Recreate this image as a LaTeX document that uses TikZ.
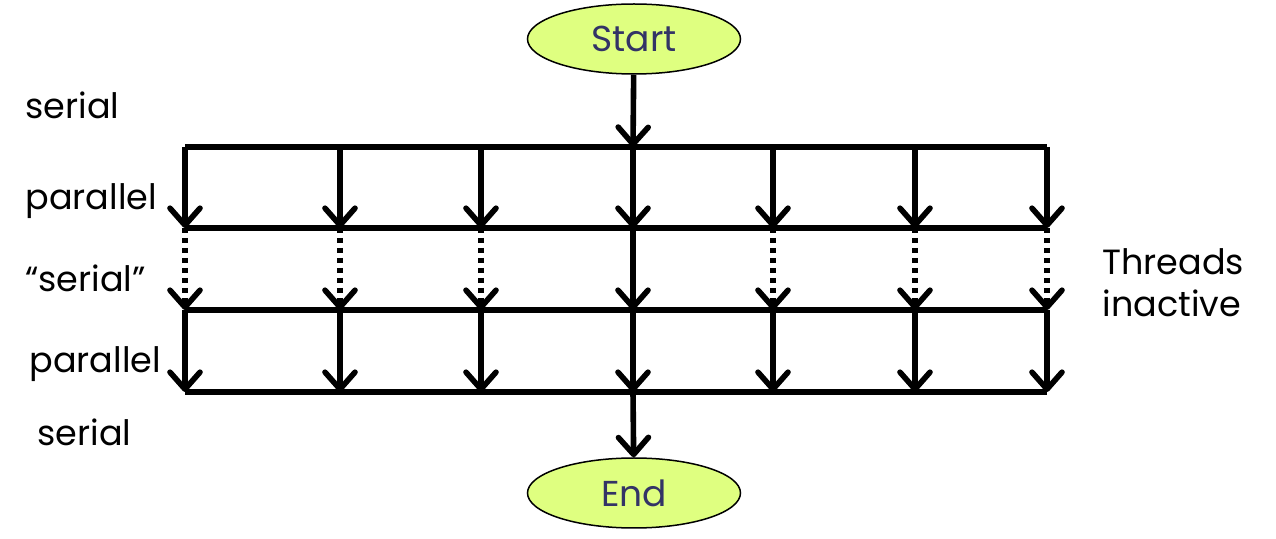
\documentclass[tikz,border=0pt]{standalone}
\usepackage{fontspec}
\setmainfont{Poppins}
\usetikzlibrary{arrows.meta,shapes.geometric}
\definecolor{ellfill}{HTML}{DFFF80}
\definecolor{elltext}{HTML}{333366}
\begin{document}
\begin{tikzpicture}[x=0.5pt,y=-0.5pt,
  bar/.style={line width=2.8pt},
  arr/.style={line width=2.8pt,-{Straight Barb[length=8.5pt,width=15pt,round]}},
  dotarr/.style={arr,dash pattern=on 2.6pt off 2.4pt},
  term/.style={ellipse,draw=black,line width=0.75pt,fill=ellfill,text=elltext,
    minimum width=106.5pt,minimum height=35pt,inner sep=0pt,font=\fontsize{18}{22}\selectfont},
  lbl/.style={anchor=base west,inner sep=0pt,font=\fontsize{17.5}{21}\selectfont}]
\useasboundingbox (0,0) rectangle (1276,539);
\node[term] (start) at (634,39) {Start};
\node[term] (end) at (634,493) {End};
\foreach \i/\x in {1/185,2/340,3/481,4/633,5/773,6/915,7/1047}{
  \coordinate (t\i) at (\x,147);
  \coordinate (m\i) at (\x,228);
  \coordinate (n\i) at (\x,310);
  \coordinate (b\i) at (\x,392);
}
\draw[bar] (t1) -- (t7);
\draw[bar] (m1) -- (m7);
\draw[bar] (n1) -- (n7);
\draw[bar] (b1) -- (b7);
\draw[arr] (start) -- (t4);
\draw[arr] (b4) -- (end);
\foreach \i in {1,...,7}{
  \draw[arr] (t\i) -- (m\i);
  \draw[arr] (n\i) -- (b\i);
}
\foreach \i in {1,2,3,5,6,7}{
  \draw[dotarr] (m\i) -- (n\i);
}
\draw[arr] (m4) -- (n4);
\node[lbl] (l1) at (25,119) {serial};
\node[lbl] (l2) at (25,210) {parallel};
\node[lbl] (l3) at (25,292) {“serial”};
\node[lbl] (l4) at (29,373) {parallel};
\node[lbl] (l5) at (37,446) {serial};
\node[lbl] (l6) at (1102,275) {Threads};
\node[lbl] (l7) at (1102,317) {inactive};
\end{tikzpicture}
\end{document}
